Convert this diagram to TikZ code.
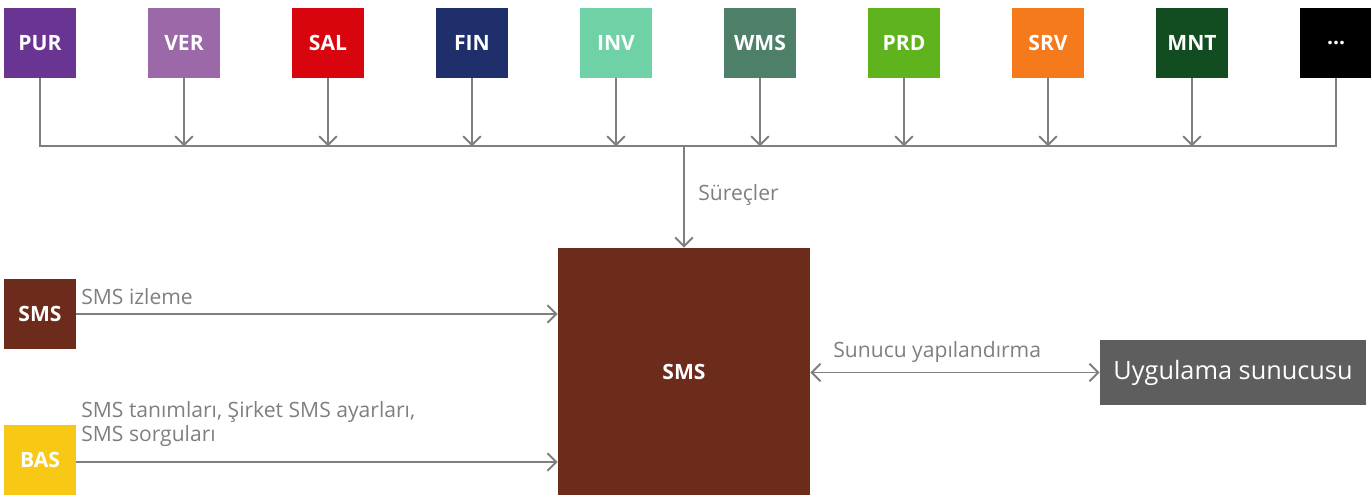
\documentclass[tikz,border=0pt]{standalone}
\usepackage{fontspec}
\setmainfont{Open Sans}
\usetikzlibrary{arrows.meta, positioning, calc}
\definecolor{purcol}{HTML}{6A3592}
\definecolor{vercol}{HTML}{9B69A8}
\definecolor{salcol}{HTML}{D8050F}
\definecolor{fincol}{HTML}{1E2F6C}
\definecolor{invcol}{HTML}{6FD1A6}
\definecolor{wmscol}{HTML}{4E8069}
\definecolor{prdcol}{HTML}{5FB31C}
\definecolor{srvcol}{HTML}{F47A1B}
\definecolor{mntcol}{HTML}{114D20}
\definecolor{smscol}{HTML}{6C2B1B}
\definecolor{bascol}{HTML}{F8C914}
\definecolor{appcol}{HTML}{5E5E5E}
\definecolor{wirecol}{HTML}{7F7F7F}
\tikzset{
    my-module/.style={
        text=white, font=\large\bfseries, minimum width=1.44cm, minimum height=1.4cm, inner sep=0pt
    },
    my-wire/.style={
        draw=wirecol, line width=1.1pt
    },
    my-arrow/.style={
        my-wire, -{Straight Barb[length=5pt, width=10pt]}
    },
    my-label/.style={
        text=wirecol, font=\large, inner sep=0pt
    },
}

\begin{document}
\begin{tikzpicture}[node distance=1.426cm]

        \useasboundingbox (0, 0) rectangle (27.42, 9.9);

        % MODULES - TOP ROW --------------------------------------------------------------------
        \node[my-module, fill=purcol] (PUR)  at (0.8, 9.04)   {PUR};
        \node[my-module, fill=vercol] (VER)  [right=of PUR]  {VER};
        \node[my-module, fill=salcol] (SAL)  [right=of VER]  {SAL};
        \node[my-module, fill=fincol] (FIN)  [right=of SAL]  {FIN};
        \node[my-module, fill=invcol] (INV)  [right=of FIN]  {INV};
        \node[my-module, fill=wmscol] (WMS)  [right=of INV]  {WMS};
        \node[my-module, fill=prdcol] (PRD)  [right=of WMS]  {PRD};
        \node[my-module, fill=srvcol] (SRV)  [right=of PRD]  {SRV};
        \node[my-module, fill=mntcol] (MNT)  [right=of SRV]  {MNT};
        \node[my-module, fill=black]  (MORE) [right=of MNT]  {...};

        % BUS LINE
        \coordinate (BUSL) at ($(PUR.south)  + (0, -1.36)$);
        \coordinate (BUSR) at ($(MORE.south) + (0, -1.36)$);
        \draw[my-wire] (PUR.south) -- (BUSL) -- (BUSR) -- (MORE.south);

        % MODULE ARROWS INTO BUS
        \draw[my-arrow] (VER.south) -- (VER.south |- BUSL);
        \draw[my-arrow] (SAL.south) -- (SAL.south |- BUSL);
        \draw[my-arrow] (FIN.south) -- (FIN.south |- BUSL);
        \draw[my-arrow] (INV.south) -- (INV.south |- BUSL);
        \draw[my-arrow] (WMS.south) -- (WMS.south |- BUSL);
        \draw[my-arrow] (PRD.south) -- (PRD.south |- BUSL);
        \draw[my-arrow] (SRV.south) -- (SRV.south |- BUSL);
        \draw[my-arrow] (MNT.south) -- (MNT.south |- BUSL);

        % SMS CORE -----------------------------------------------------------------------------
        \node[my-module, fill=smscol, minimum width=5.04cm, minimum height=4.94cm] (CORE) at (13.68, 2.47) {SMS};
        \draw[my-arrow] (CORE.north |- BUSL) -- (CORE.north);
        \node[my-label, anchor=west] (PROC) at (13.96, 6.0) {Süreçler};

        % INPUTS - LEFT
        \node[my-module, fill=smscol] (SMS) at (0.8, 3.62) {SMS};
        \node[my-module, fill=bascol] (BAS) at (0.8, 0.7)  {BAS};
        \draw[my-arrow] (SMS.east) -- (SMS.east -| CORE.west);
        \draw[my-arrow] ($(BAS.east) + (0, -0.04)$) -- ($(BAS.east -| CORE.west) + (0, -0.04)$);
        \node[my-label, anchor=west] (SMSLBL) at (1.62, 3.96) {SMS izleme};
        \node[my-label, anchor=west, align=left] (BASLBL) at (1.62, 1.42) {SMS tanımları, Şirket SMS ayarları,\\SMS sorguları};

        % APPLICATION SERVER - RIGHT
        \node[my-module, fill=appcol, font=\Large, minimum width=5.32cm, minimum height=1.3cm] (APP) at (24.66, 2.45) {Uygulama sunucusu};
        \draw[my-wire, {Straight Barb[length=5pt, width=10pt]}-{Straight Barb[length=5pt, width=10pt]}] (APP.west -| CORE.east) -- (APP.west);
        \node[my-label, anchor=west] (APPLBL) at (16.66, 2.86) {Sunucu yapılandırma};

    \end{tikzpicture}
\end{document}
